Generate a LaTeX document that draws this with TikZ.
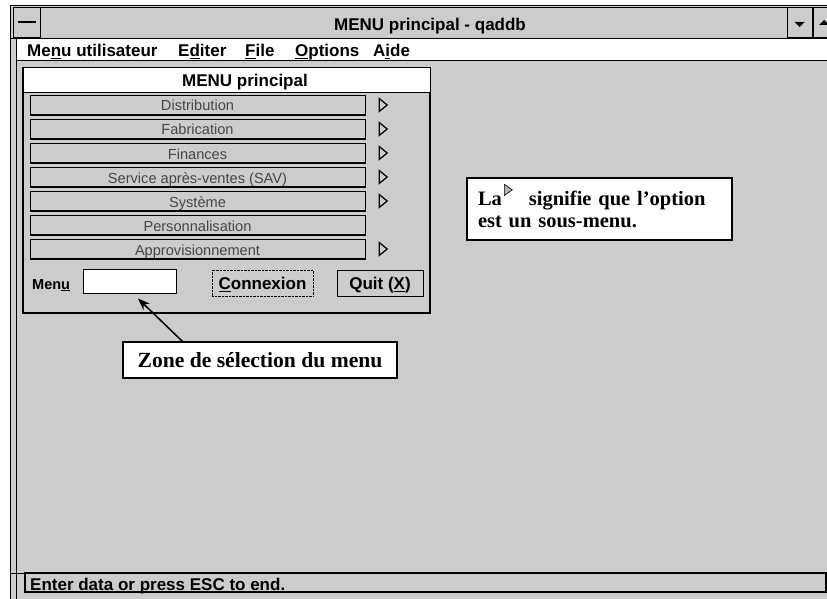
\documentclass[tikz,border=0pt]{standalone}
\usepackage{fontspec}
\setmainfont{Liberation Serif}
\setsansfont{Liberation Sans}
\usetikzlibrary{arrows.meta,positioning}
\definecolor{dither}{RGB}{204,204,204}
\definecolor{greytext}{RGB}{70,70,70}
\tikzset{>={Stealth[length=12pt,width=9pt]}}
\tikzset{
  winfont/.style={inner sep=0pt, font=\sffamily\bfseries\fontsize{17}{20}\selectfont},
  menubtn/.style={draw, fill=dither, minimum width=335pt, minimum height=20pt, inner sep=0pt,
    text height=13pt, text depth=1pt, text=greytext, font=\sffamily\fontsize{14.6}{16}\selectfont},
  submark/.style={draw, line width=1.2pt, line join=miter},
  winbtn/.style={draw, fill=dither, minimum height=30pt, inner sep=0pt},
  callout/.style={draw, line width=1.2pt, fill=white, inner sep=0pt,
    font=\rmfamily\bfseries\fontsize{20.5}{22}\selectfont}
}

\begin{document}
\begin{tikzpicture}[x=1pt,y=-1pt]
\useasboundingbox (0,0) rectangle (827,599);
\fill[white] (0,0) rectangle (827,599);
% window frame
\draw[fill=dither] (10,5) rectangle (845,610);
\draw (16,38) -- (16,610);
\draw (10,38) -- (16,38);
\draw (10,573) -- (25,573);
% title bar
\draw[fill=dither] (13,7) rectangle (845,38);
\node[winbtn, minimum width=27pt] (sysbox) at (26.5,22) {};
\draw[line width=2pt] ([xshift=-8.5pt]sysbox.center) -- ([xshift=9pt]sysbox.center);
\node[winfont, anchor=base] (title) at (430,31) {MENU principal - qaddb};
\node[winbtn, minimum width=25pt] (downbtn) at (799.5,22) {};
\fill ([xshift=-5pt]downbtn.center) -- ++(10,0) -- ++(-5,5) -- cycle;
\node[winbtn, minimum width=26pt] (upbtn) at (826,22) {};
\fill ([xshift=-7pt,yshift=-3pt]upbtn.center) -- ++(10,0) -- ++(-5,-5) -- cycle;
% menu bar
\draw[fill=white] (16,38) rectangle (845,60);
\node[winfont, anchor=base west] (musr) at (27,57) {Me\underline{n}u utilisateur};
\node[winfont, anchor=base west] (medit) at (178,57) {E\underline{d}iter};
\node[winfont, anchor=base west] (mfile) at (245,57) {\underline{F}ile};
\node[winfont, anchor=base west] (mopt) at (295,57) {\underline{O}ptions};
\node[winfont, anchor=base west] (maide) at (373,57) {A\underline{i}de};
% MENU principal window
\draw[fill=dither, line width=1.2pt] (23,68) rectangle (430,313);
\draw[fill=white, line width=1pt] (23,68) rectangle (430,93);
\node[winfont, anchor=base] (mtitle) at (245,87) {MENU principal};
\foreach \lbl [count=\i] in {Distribution, Fabrication, Finances,
    {Service après-ventes (SAV)}, Système, Personnalisation, Approvisionnement} {
  \node[menubtn] (b\i) at (197.5,{105+24*(\i-1)}) {\lbl};
  \draw[line width=1.5pt] (b\i.south west) -- (b\i.south east);
}
\foreach \i in {1,2,3,4,5,7}
  \draw[submark] ([xshift=14pt,yshift=6.5pt]b\i.east) -- ++(8,6.5) -- ++(-8,6.5) -- cycle;
\node[inner sep=0pt, font=\sffamily\bfseries\fontsize{14.5}{16}\selectfont, anchor=base west] (menulbl) at (32,289) {Men\underline{u}};
\node[draw, fill=white, line width=1pt, minimum width=93pt, minimum height=24pt, inner sep=0pt] (menufld) at (129.5,281) {};
\node[draw, densely dotted, fill=dither, minimum width=101pt, minimum height=26pt,
  winfont, text height=13pt, text depth=0pt] (connbtn) at (262.5,283) {\underline{C}onnexion};
\node[draw, line width=1pt, fill=dither, minimum width=86pt, minimum height=26pt,
  winfont, text height=13pt, text depth=0pt] (quitbtn) at (380,283) {Quit (\underline{X})};
% status bar
\draw[fill=dither, line width=1.5pt] (25,573) rectangle (826,592);
\node[winfont, anchor=base west] (status) at (30,590) {Enter data or press ESC to end.};
% callouts
\node[callout, font=\rmfamily\bfseries\fontsize{21.6}{24}\selectfont,
  minimum width=274pt, minimum height=36pt] (zone) at (260,360) {Zone de sélection du menu};
\draw[->, line width=1.5pt] ([xshift=60pt]zone.north west) -- ([xshift=8.5pt,yshift=-5pt]menufld.south);
\node[callout, minimum width=265pt, minimum height=62pt, text width=243pt, align=left] (note) at (599.5,209)
  {La\hspace{27pt}signifie que l'option\\est un sous-menu.};
\draw[fill=gray!60, line width=0.6pt] ([xshift=38pt,yshift=-7pt]note.north west) -- ++(8,5.5) -- ++(-8,5.5) -- cycle;
\end{tikzpicture}
\end{document}
